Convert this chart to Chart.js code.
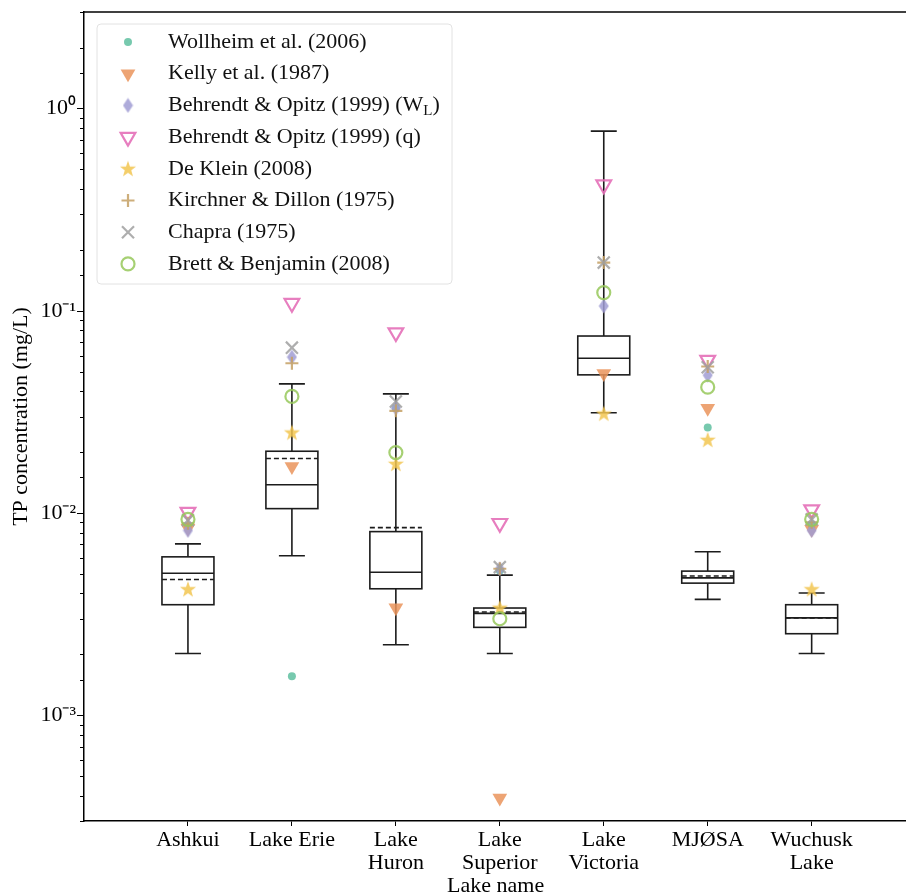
<!DOCTYPE html>
<html>
<head>
<meta charset="utf-8">
<script src="https://cdn.jsdelivr.net/npm/chart.js@4.4.0/dist/chart.umd.min.js"></script>
<style>
  html, body { margin: 0; padding: 0; background: #fff; overflow: hidden; }
</style>
</head>
<body>
<canvas id="tpChart" width="918" height="900"></canvas>
<script>
// lakes (multi-line labels)
const lakes = [['Ashkui'], ['Lake Erie'], ['Lake', 'Huron'], ['Lake', 'Superior'], ['Lake', 'Victoria'], ['MJØSA'], ['Wuchusk', 'Lake']];

// box plot statistics (mg/L)
const whiskerLow  = [0.00202, 0.00615, 0.00223, 0.00202, 0.0313, 0.00374, 0.00202];
const q1          = [0.00352, 0.01051, 0.00422, 0.00272, 0.0482, 0.00450, 0.00253];
const median      = [0.00504, 0.0138,  0.00509, 0.00319, 0.0582, 0.00478, 0.00303];
const q3          = [0.00607, 0.0202,  0.00809, 0.00339, 0.0750, 0.00516, 0.00352];
const whiskerHigh = [0.00704, 0.0435,  0.0388,  0.00493, 0.773,  0.00643, 0.00402];
const mean        = [0.00469, 0.0186,  0.00847, 0.00324, null,   0.00488, 0.00303];

// model predictions per lake
const wollheim   = [0.0086, 0.00156, 0.033,  0.0052,  null,  0.0265, 0.0087];
const kelly      = [0.0084, 0.0170,  0.0034, 0.00039, 0.049, 0.033,  0.0083];
const behrendtWL = [0.0082, 0.059,   0.033,  0.0053,  0.1055, 0.048, 0.0082];
const behrendtQ  = [0.0101, 0.109,   0.078,  0.0089,  0.42,  0.057,  0.0104];
const deKlein    = [0.0042, 0.025,   0.0175, 0.0034,  0.031, 0.023,  0.0042];
const kirchner   = [0.0089, 0.055,   0.032,  0.0053,  0.173, 0.053,  0.0090];
const chapra     = [0.0092, 0.0657,  0.0356, 0.0054,  0.173, 0.0526, 0.0093];
const brett      = [0.0093, 0.0377,  0.0199, 0.0030,  0.123, 0.0419, 0.0093];

const modelNames = ['Wollheim et al. (2006)', 'Kelly et al. (1987)', 'Behrendt & Opitz (1999) (W_L)',
  'Behrendt & Opitz (1999) (q)', 'De Klein (2008)', 'Kirchner & Dillon (1975)', 'Chapra (1975)', 'Brett & Benjamin (2008)'];
const modelValues = [wollheim, kelly, behrendtWL, behrendtQ, deKlein, kirchner, chapra, brett];

const FONT = '"Liberation Serif", "Times New Roman", serif';
Chart.defaults.font.family = FONT;
Chart.defaults.font.size = 22;
Chart.defaults.color = '#000';

// custom marker images (filled star, thin diamond)
function makeStar(color) {
  const c = document.createElement('canvas');
  c.width = 18; c.height = 18;
  const g = c.getContext('2d');
  g.beginPath();
  for (let k = 0; k < 10; k++) {
    const r = k % 2 === 0 ? 8.5 : 3.4;
    const a = -Math.PI / 2 + k * Math.PI / 5;
    g.lineTo(9 + r * Math.cos(a), 9.5 + r * Math.sin(a));
  }
  g.closePath();
  g.fillStyle = color;
  g.fill();
  return c;
}
function makeDiamond(color) {
  const c = document.createElement('canvas');
  c.width = 11; c.height = 16;
  const g = c.getContext('2d');
  g.beginPath();
  g.moveTo(5.5, 0.5); g.lineTo(10.5, 8); g.lineTo(5.5, 15.5); g.lineTo(0.5, 8);
  g.closePath();
  g.fillStyle = color;
  g.fill();
  return c;
}

const styles = [
  { pointStyle: 'circle', radius: 4, rotation: 0, bg: 'rgba(95,192,160,0.85)', border: 'rgba(95,192,160,0.85)', bw: 0 },
  { pointStyle: 'triangle', radius: 8.5, rotation: 180, bg: 'rgba(234,148,92,0.85)', border: 'rgba(234,148,92,0.85)', bw: 0 },
  { pointStyle: makeDiamond('rgba(160,156,212,0.85)'), radius: 8, rotation: 0, bg: 'rgba(160,156,212,0.85)', border: 'rgba(160,156,212,0.85)', bw: 0 },
  { pointStyle: 'triangle', radius: 8.5, rotation: 180, bg: 'rgba(0,0,0,0)', border: 'rgba(228,112,184,0.9)', bw: 2.2 },
  { pointStyle: makeStar('rgba(242,198,80,0.85)'), radius: 9, rotation: 0, bg: 'rgba(242,198,80,0.85)', border: 'rgba(242,198,80,0.85)', bw: 0 },
  { pointStyle: 'cross', radius: 6.5, rotation: 0, bg: 'rgba(0,0,0,0)', border: 'rgba(196,160,100,0.85)', bw: 2.2 },
  { pointStyle: 'crossRot', radius: 8.5, rotation: 0, bg: 'rgba(0,0,0,0)', border: 'rgba(160,160,160,0.85)', bw: 2.2 },
  { pointStyle: 'circle', radius: 6.5, rotation: 0, bg: 'rgba(0,0,0,0)', border: 'rgba(150,200,90,0.85)', bw: 2.2 }
];

const datasets = modelValues.map((vals, m) => ({
  label: modelNames[m],
  data: vals.map((v, i) => (v === null ? null : { x: i + 1, y: v })).filter(p => p !== null),
  pointStyle: styles[m].pointStyle,
  pointRadius: styles[m].radius,
  pointHoverRadius: styles[m].radius,
  pointRotation: styles[m].rotation,
  backgroundColor: styles[m].bg,
  borderColor: styles[m].border,
  borderWidth: styles[m].bw,
  order: modelValues.length - m
}));

function isPow10(v) {
  const e = Math.log10(v);
  return Math.abs(e - Math.round(e)) < 1e-9;
}
const sup = { '0': '⁰', '1': '¹', '2': '²', '3': '³', '-': '⁻' };

// box plots drawn from the scales
const boxPlugin = {
  id: 'boxes',
  beforeDatasetsDraw(chart) {
    const { ctx, scales: { x, y } } = chart;
    ctx.save();
    ctx.strokeStyle = '#1c1c1c';
    ctx.lineWidth = 1.6;
    lakes.forEach((l, i) => {
      const cx = x.getPixelForValue(i + 1);
      const bw = x.getPixelForValue(i + 1.25) - cx;
      const cw = x.getPixelForValue(i + 1.125) - cx;
      const yq1 = y.getPixelForValue(q1[i]), yq3 = y.getPixelForValue(q3[i]);
      const ylo = y.getPixelForValue(whiskerLow[i]), yhi = y.getPixelForValue(whiskerHigh[i]);
      const ym = y.getPixelForValue(median[i]);
      ctx.setLineDash([]);
      ctx.strokeRect(cx - bw, yq3, 2 * bw, yq1 - yq3);
      ctx.beginPath();
      ctx.moveTo(cx, yq3); ctx.lineTo(cx, yhi);
      ctx.moveTo(cx, yq1); ctx.lineTo(cx, ylo);
      ctx.moveTo(cx - cw, yhi); ctx.lineTo(cx + cw, yhi);
      ctx.moveTo(cx - cw, ylo); ctx.lineTo(cx + cw, ylo);
      ctx.moveTo(cx - bw, ym); ctx.lineTo(cx + bw, ym);
      ctx.stroke();
      if (mean[i] !== null) {
        const yme = y.getPixelForValue(mean[i]);
        ctx.setLineDash([5, 3]);
        ctx.beginPath();
        ctx.moveTo(cx - bw, yme); ctx.lineTo(cx + bw, yme);
        ctx.stroke();
      }
    });
    ctx.restore();
  },
  afterDraw(chart) {
    const { ctx, chartArea, scales: { y } } = chart;
    ctx.save();
    ctx.strokeStyle = '#000';
    ctx.lineWidth = 1.5;
    ctx.beginPath();
    ctx.moveTo(chartArea.left, chartArea.top);
    ctx.lineTo(chartArea.right, chartArea.top);
    ctx.stroke();
    ctx.lineWidth = 1;
    y.ticks.forEach(t => {
      const py = Math.round(y.getPixelForValue(t.value)) + 0.5;
      const len = isPow10(t.value) ? 7 : 4;
      ctx.beginPath();
      ctx.moveTo(chartArea.left - len, py);
      ctx.lineTo(chartArea.left, py);
      ctx.stroke();
    });
    ctx.restore();
  }
};

// legend box with matplotlib look
const legendPlugin = {
  id: 'boxLegend',
  afterDatasetsDraw(chart) {
    const ctx = chart.ctx;
    ctx.save();
    ctx.beginPath();
    ctx.roundRect(97, 24, 355, 260, 4);
    ctx.fillStyle = 'rgba(255,255,255,0.85)';
    ctx.fill();
    ctx.strokeStyle = '#e2e2e2';
    ctx.lineWidth = 1;
    ctx.stroke();
    modelNames.forEach((name, m) => {
      const yy = 42 + m * 31.7;
      const s = styles[m];
      ctx.fillStyle = s.bg;
      ctx.strokeStyle = s.border;
      ctx.lineWidth = s.bw || 1;
      Chart.helpers.drawPoint(ctx, { pointStyle: s.pointStyle, radius: s.radius, rotation: s.rotation, borderWidth: s.bw }, 128, yy);
      ctx.fillStyle = '#111';
      ctx.textBaseline = 'middle';
      ctx.textAlign = 'left';
      ctx.font = '22px ' + FONT;
      const parts = name.split('_');
      let xx = 168;
      ctx.fillText(parts[0], xx, yy);
      if (parts.length > 1) {
        xx += ctx.measureText(parts[0]).width;
        ctx.font = '15px ' + FONT;
        ctx.fillText(parts[1][0], xx, yy + 6);
        xx += ctx.measureText(parts[1][0]).width;
        ctx.font = '22px ' + FONT;
        ctx.fillText(parts[1].slice(1), xx, yy);
      }
    });
    ctx.restore();
  }
};

new Chart(document.getElementById('tpChart'), {
  type: 'scatter',
  data: { datasets },
  plugins: [boxPlugin, legendPlugin],
  options: {
    responsive: false,
    animation: false,
    devicePixelRatio: 1,
    layout: { padding: { top: 12, right: 0, bottom: 0, left: 0 } },
    plugins: { legend: { display: false }, tooltip: { enabled: false } },
    scales: {
      x: {
        type: 'linear',
        min: 0,
        max: 7.92,
        afterBuildTicks: s => { s.ticks = lakes.map((l, i) => ({ value: i + 1 })); },
        afterFit: s => { s.height = 79; s.paddingLeft = 0; s.paddingRight = 0; },
        ticks: {
          callback: v => lakes[v - 1],
          autoSkip: false,
          maxRotation: 0,
          padding: 3,
          font: { size: 22, lineHeight: 1.05 }
        },
        grid: { drawOnChartArea: false, drawTicks: true, tickLength: 5, tickColor: '#000', tickWidth: 1 },
        border: { display: true, color: '#000', width: 1.5 },
        title: { display: true, text: 'Lake name', padding: { top: 0, bottom: 3 }, font: { size: 22, lineHeight: 1 } }
      },
      y: {
        type: 'logarithmic',
        min: 0.0003,
        max: 3,
        afterFit: s => { s.width = 84; s.paddingTop = 0; s.paddingBottom = 0; },
        ticks: {
          autoSkip: false,
          padding: 8,
          callback: v => {
            if (!isPow10(v)) return '';
            const e = String(Math.round(Math.log10(v)));
            return '10' + e.split('').map(c => sup[c]).join('');
          }
        },
        grid: { drawOnChartArea: false, drawTicks: false },
        border: { display: true, color: '#000', width: 1.5 },
        title: { display: true, text: 'TP concentration (mg/L)', padding: { top: 8, bottom: 0 }, font: { size: 22 } }
      }
    }
  }
});
</script>
</body>
</html>
